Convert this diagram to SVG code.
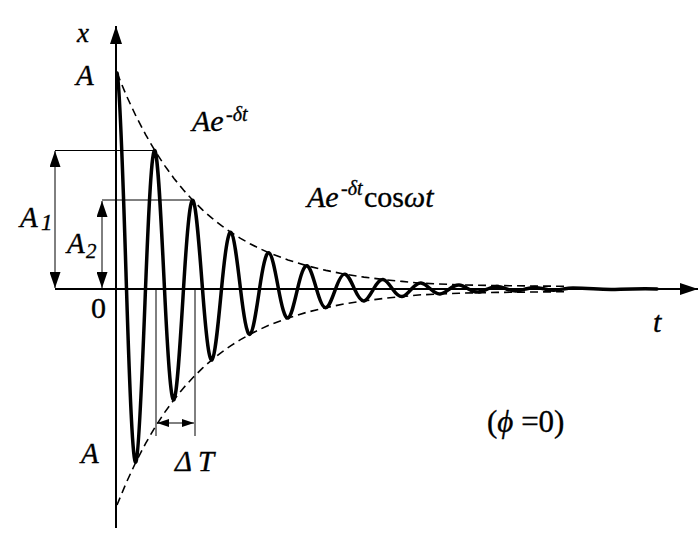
<svg xmlns="http://www.w3.org/2000/svg" width="700" height="533" viewBox="0 0 700 533">
<style>
.ax{stroke:#000;stroke-width:2;fill:none}
.thin{stroke:#000;stroke-width:1;fill:none}
.env{stroke:#000;stroke-width:1.6;stroke-dasharray:8 5;fill:none}
.curve{stroke:#000;stroke-width:3.5;fill:none;stroke-linejoin:round;stroke-linecap:round}
.lbl{font-family:"Liberation Serif","Times New Roman",serif;fill:#000;stroke:#000;stroke-width:0.35}
.it{font-style:italic}
</style>
<defs>
<marker id="axArrow" markerUnits="userSpaceOnUse" markerWidth="18" markerHeight="12" refX="18" refY="6" orient="auto"><path d="M0,0 L18,6 L0,12 z" fill="#000"/></marker>
<marker id="dimArrow" markerUnits="userSpaceOnUse" markerWidth="16" markerHeight="11" refX="16" refY="5.5" orient="auto-start-reverse"><path d="M0,0 L16,5.5 L0,11 z" fill="#000"/></marker>
<marker id="smallArrow" markerUnits="userSpaceOnUse" markerWidth="12" markerHeight="8" refX="12" refY="4" orient="auto-start-reverse"><path d="M0,0 L12,4 L0,8 z" fill="#000"/></marker>
</defs>
<rect width="700" height="533" fill="#fff"/>
<g id="axes">
<line class="ax" x1="116" y1="528" x2="116" y2="26" marker-end="url(#axArrow)"/>
<line class="ax" x1="55" y1="289" x2="698" y2="289" marker-end="url(#axArrow)"/>
</g>
<g id="connectors">
<line class="thin" x1="55" y1="150.5" x2="155" y2="150.5"/>
<line class="thin" x1="102" y1="200" x2="193" y2="200"/>
<line class="thin" x1="55" y1="151" x2="55" y2="288" marker-start="url(#dimArrow)" marker-end="url(#dimArrow)"/>
<line class="thin" x1="102" y1="201" x2="102" y2="288" marker-start="url(#dimArrow)" marker-end="url(#dimArrow)"/>
<line class="thin" x1="156" y1="289" x2="156" y2="436"/>
<line class="thin" x1="195" y1="289" x2="195" y2="436"/>
<line class="thin" x1="157" y1="423" x2="194" y2="423" marker-start="url(#smallArrow)" marker-end="url(#smallArrow)"/>
</g>
<g id="envelope">
<polyline class="env" points="117,73 126.5,95.8 136,116.2 145.5,134.4 155,150.8 164.5,165.4 174,178.4 183.5,190.1 193,200.5 202.5,209.9 212,218.2 221.5,225.7 231,232.4 240.5,238.4 250,243.7 259.5,248.5 269,252.8 288,260 307,265.8 326,270.4 345,274.2 364,277.1 383,279.5 402,281.4 421,283.2 459,284.8 497,285.6 535,286 567,286.3"/>
<polyline class="env" points="117,505 126.5,482.2 136,461.8 145.5,443.6 155,427.2 164.5,412.6 174,399.6 183.5,387.9 193,377.5 202.5,368.1 212,359.8 221.5,352.3 231,345.6 240.5,339.6 250,334.3 259.5,329.5 269,325.2 288,318 307,312.2 326,307.6 345,303.8 364,300.9 383,298.5 402,296.6 421,294.8 459,293.2 497,292.4 535,292 567,291.7"/>
</g>
<g id="oscillation">
<path class="curve" d="M117,73 C120.17,81.03 123.33,187.84 126.5,289 C129.67,390.16 132.83,468.23 136,461.8 C139.17,455.37 142.33,369.95 145.5,289 C148.67,208.05 151.83,145.62 155,150.76 C158.17,155.9 161.33,224.28 164.5,289 C167.67,353.72 170.83,403.71 174,399.6 C177.17,395.49 180.33,340.78 183.5,289 C186.67,237.22 189.83,197.24 193,200.53 C196.17,203.82 199.33,247.58 202.5,289 C205.67,330.42 208.83,362.43 212,359.8 C215.17,357.17 218.33,322.14 221.5,289 C224.67,255.86 227.83,230.27 231,232.38 C234.17,234.49 237.33,262.51 240.5,289 C243.67,315.49 246.83,335.99 250,334.3 C253.17,332.61 256.33,310.21 259.5,289 C262.67,267.79 265.83,251.41 269,252.76 C272.17,254.11 275.33,272.04 278.5,289 C281.67,305.96 284.83,319.08 288,318 C291.17,316.92 294.33,302.56 297.5,289 C300.67,275.44 303.83,264.95 307,265.81 C310.17,266.67 313.33,278.16 316.5,289 C319.67,299.84 322.83,308.29 326,307.6 C329.17,306.91 332.33,297.69 335.5,289 C338.67,280.31 341.83,273.61 345,274.16 C348.17,274.71 351.33,282.04 354.5,289 C357.67,295.96 360.83,301.34 364,300.9 C367.17,300.46 370.33,294.55 373.5,289 C376.67,283.45 379.83,279.15 383,279.5 C386.17,279.85 389.33,284.55 392.5,289 C395.67,293.45 398.83,296.88 402,296.6 C405.17,296.32 408.33,292.56 411.5,289 C414.67,285.44 417.83,282.69 421,282.92 C424.17,283.15 427.33,286.17 430.5,289 C433.67,291.83 436.83,294.08 440,293.9 C443.17,293.72 446.33,291.25 449.5,289 C452.67,286.75 455.83,284.97 459,285.11 C462.17,285.25 465.33,287.17 468.5,289 C471.67,290.83 474.83,292.22 478,292.1 C481.17,291.98 484.33,290.47 487.5,289 C490.67,287.53 493.83,286.42 497,286.51 C500.17,286.6 503.33,287.85 506.5,289 C509.67,290.15 512.83,291.07 516,291 C519.17,290.93 522.33,289.94 525.5,289 C528.67,288.06 531.83,287.34 535,287.4 C538.17,287.46 541.33,288.26 544.5,289 C547.67,289.74 550.83,290.35 554,290.3 C557.17,290.25 560.33,289.6 563.5,289 C566.67,288.4 569.83,288 573,288 C590,288 600,290 615,289.5 S640,288.5 657,289"/>
</g>
<g id="labels" class="lbl">
<text class="it" x="77" y="42" font-size="27">x</text>
<text class="it" x="76" y="85" font-size="29">A</text>
<text class="it" x="81" y="463" font-size="29">A</text>
<text x="91" y="318" font-size="30">0</text>
<text class="it" x="653" y="332" font-size="30">t</text>
<text class="it" font-size="29"><tspan x="20" y="227">A</tspan><tspan x="41" y="230" font-size="23">1</tspan></text>
<text class="it" font-size="29"><tspan x="67" y="253">A</tspan><tspan x="86" y="258" font-size="21">2</tspan></text>
<text class="it" font-size="30"><tspan x="192" y="131">Ae</tspan><tspan x="226" y="121" font-size="20">-δt</tspan></text>
<text font-size="30"><tspan class="it" x="307" y="207">Ae</tspan><tspan class="it" x="341" y="195" font-size="20">-δt</tspan><tspan x="364" y="207">cos</tspan><tspan class="it" y="207">ωt</tspan></text>
<text font-size="31" x="487" y="432">(<tspan class="it">ϕ</tspan> =0)</text>
<text class="it" font-size="29"><tspan x="175" y="471">Δ</tspan><tspan x="198" y="471">T</tspan></text>
</g>
</svg>
